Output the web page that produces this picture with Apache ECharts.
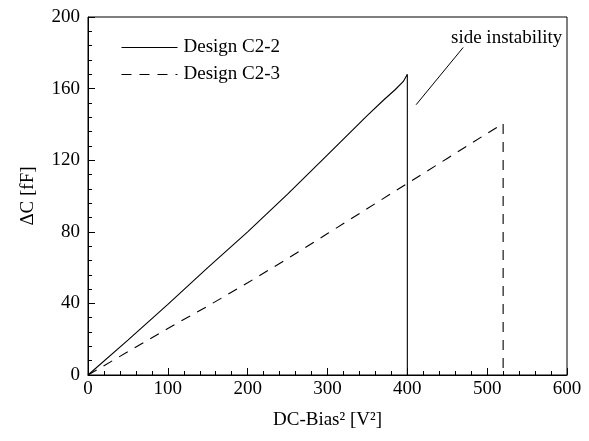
<!DOCTYPE html>
<html>
<head>
<meta charset="utf-8">
<script src="https://cdn.jsdelivr.net/npm/echarts@6/dist/echarts.min.js"></script>
<style>
  html, body { margin: 0; padding: 0; background: #fff; }
  .chart { width: 589px; height: 441px; }
</style>
</head>
<body>
<div class="chart"></div>
<script>
// 数据
const xC22 = [0, 50, 100, 150, 200, 250, 300, 350, 370, 385, 395, 400, 400]
const yC22 = [0, 19.5, 39.5, 60, 80, 101, 123, 145, 153.5, 159.5, 164, 168, 0]
const xC23 = [0, 50, 100, 150, 200, 250, 300, 350, 400, 450, 500, 520, 520]
const yC23 = [0, 13, 26, 38.5, 51.5, 65, 79, 93, 107, 121, 135, 140.5, 0]
const pointerX = [411, 470]
const pointerY = [151, 183]
const seriesNames = ['Design C2-2', 'Design C2-3']

function pairs(xs, ys) {
  return xs.map((x, i) => [x, ys[i]])
}

(function () {
  const el = document.querySelector('.chart')
  const chart = echarts.init(el)
  const font = 'Liberation Serif'
  const axisCommon = {
    axisLine: { lineStyle: { color: '#000', width: 1 } },
    axisTick: { inside: true, length: 7, lineStyle: { color: '#000' } },
    minorTick: { show: true, splitNumber: 5, length: 4, lineStyle: { color: '#000' } },
    splitLine: { show: false },
    axisLabel: { color: '#000', fontFamily: font, fontSize: 19 }
  }
  const option = {
    animation: false,
    grid: {
      left: 88, top: 17, right: 22, bottom: 66,
      show: true, borderColor: '#000', borderWidth: 1
    },
    legend: {
      data: seriesNames,
      orient: 'vertical',
      left: 116,
      top: 33,
      itemWidth: 56,
      itemHeight: 10,
      itemGap: 8,
      itemStyle: { color: 'transparent', borderWidth: 0 },
      lineStyle: { width: 1 },
      textStyle: { color: '#000', fontFamily: font, fontSize: 19, padding: [0, 0, 0, 1] }
    },
    xAxis: Object.assign({}, axisCommon, {
      type: 'value', min: 0, max: 600, interval: 100,
      name: 'DC-Bias² [V²]',
      nameLocation: 'middle',
      nameGap: 36,
      nameTextStyle: { color: '#000', fontFamily: font, fontSize: 19 },
      axisLabel: Object.assign({}, axisCommon.axisLabel, { margin: 5 })
    }),
    yAxis: Object.assign({}, axisCommon, {
      type: 'value', min: 0, max: 200, interval: 40,
      name: 'ΔC [fF]',
      nameLocation: 'middle',
      nameGap: 50,
      nameTextStyle: { color: '#000', fontFamily: font, fontSize: 19 },
      axisLabel: Object.assign({}, axisCommon.axisLabel, { margin: 8 })
    }),
    graphic: [{
      type: 'text',
      left: 451,
      top: 29,
      style: { text: 'side instability', fill: '#000', font: '19px "Liberation Serif"' }
    }],
    series: [
      {
        name: seriesNames[0],
        type: 'line',
        data: pairs(xC22, yC22),
        symbol: 'none',
        lineStyle: { color: '#000', width: 1.1 },
        itemStyle: { color: '#000' }
      },
      {
        name: seriesNames[1],
        type: 'line',
        data: pairs(xC23, yC23),
        symbol: 'none',
        lineStyle: { color: '#000', width: 1.1, type: [10, 8] },
        itemStyle: { color: '#000' }
      },
      {
        name: 'pointer',
        type: 'line',
        data: pairs(pointerX, pointerY),
        symbol: 'none',
        lineStyle: { color: '#000', width: 1 }
      }
    ]
  }
  chart.setOption(option)
})();
</script>
</body>
</html>
